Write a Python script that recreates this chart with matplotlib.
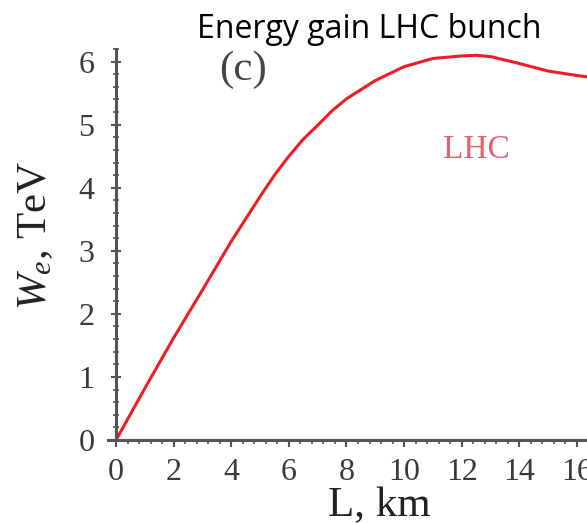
import matplotlib.pyplot as plt
from matplotlib.ticker import MultipleLocator

# Energy gain along the plasma stage, LHC bunch driver
length_km = [0, 1, 2, 3, 4, 5, 5.5, 6, 6.5, 7, 7.5, 8, 9, 10, 11, 12, 12.5, 13,
             14, 15, 16, 16.5]
energy_tev = [0, 0.82, 1.62, 2.38, 3.15, 3.86, 4.2, 4.5, 4.77, 4.99, 5.22, 5.41,
              5.70, 5.92, 6.05, 6.09, 6.10, 6.08, 5.97, 5.85, 5.78, 5.75]

SERIF = 'Liberation Serif'
AXIS_GREY = '#555555'

plt.rcParams['mathtext.fontset'] = 'custom'
plt.rcParams['mathtext.rm'] = SERIF
plt.rcParams['mathtext.it'] = SERIF + ':italic'

fig = plt.figure(figsize=(5.87, 5.24), dpi=100)
ax = fig.add_axes([108 / 587, 84 / 524, 1 - 108 / 587, 391 / 524])

ax.plot(length_km, energy_tev, color='#ee1c25', lw=2.2, clip_on=False,
        solid_joinstyle='round')

ax.set_xlim(-0.28, 16.35)
ax.set_ylim(0, 6.2)

for side in ('top', 'right'):
    ax.spines[side].set_visible(False)
ax.spines['left'].set_position(('data', 0))
for side in ('left', 'bottom'):
    ax.spines[side].set_color(AXIS_GREY)
    ax.spines[side].set_linewidth(2.2)

ax.xaxis.set_major_locator(MultipleLocator(2))
ax.xaxis.set_minor_locator(MultipleLocator(0.4))
ax.yaxis.set_major_locator(MultipleLocator(1))
ax.yaxis.set_minor_locator(MultipleLocator(0.2))

ax.tick_params(axis='x', which='major', direction='out', length=5, width=1.5,
               color=AXIS_GREY, pad=8)
ax.tick_params(axis='x', which='minor', direction='out', length=3, width=1.2,
               color=AXIS_GREY)
ax.tick_params(axis='y', which='major', direction='inout', length=7, width=1.5,
               color=AXIS_GREY, pad=12)
ax.tick_params(axis='y', which='minor', direction='inout', length=4, width=1.2,
               color=AXIS_GREY)

for lbl in ax.get_xticklabels() + ax.get_yticklabels():
    lbl.set_fontfamily(SERIF)
    lbl.set_fontsize(23)
    lbl.set_color('#3a3a3a')

ax.set_xlabel('L, km', fontfamily=SERIF, fontsize=31, color='#222222')
ax.xaxis.set_label_coords(0.566, -0.118)
ax.set_ylabel(r'$W_e$, TeV', fontfamily=SERIF, fontsize=31, color='#222222')
ax.yaxis.set_label_coords(-0.111, 0.524)

ax.text(4.4, 5.87, '(c)', fontfamily=SERIF, fontsize=31, color='#444444',
        ha='center', va='center')
ax.text(12.5, 4.6, 'LHC', fontfamily=SERIF, fontsize=24, color='#e8606a',
        ha='center', va='center')

fig.text(369 / 587, 1 - 29 / 524, 'Energy gain LHC bunch', fontfamily='Open Sans',
         fontsize=23, color='black', ha='center', va='center')

fig.savefig('out.png', dpi=100)
